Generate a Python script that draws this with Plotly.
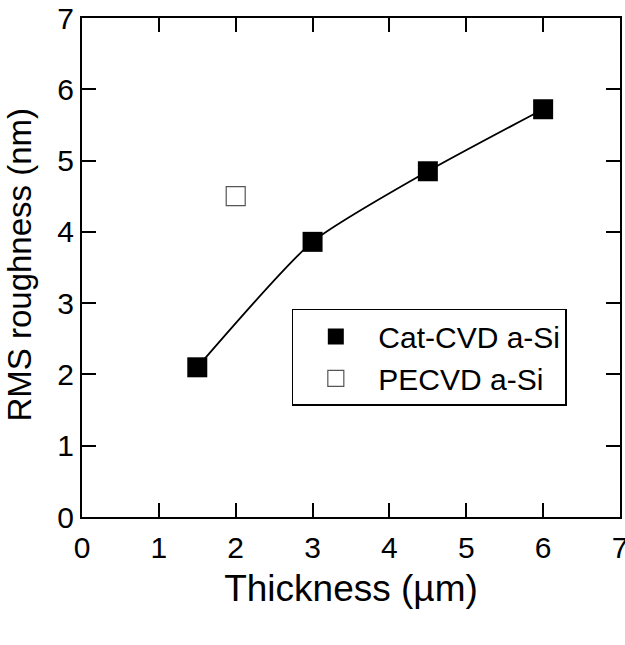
import plotly.graph_objects as go

cat_x = [1.5, 3.0, 4.5, 6.0]
cat_y = [2.10, 3.86, 4.85, 5.72]
pe_x = [2.0]
pe_y = [4.50]
ticks = [0, 1, 2, 3, 4, 5, 6, 7]

FONT = "Arial, Liberation Sans, sans-serif"

fig = go.Figure()
fig.add_trace(go.Scatter(
    x=cat_x, y=cat_y, mode="lines", line=dict(color="black", width=1.8, shape="spline", smoothing=0.6),
    showlegend=False, hoverinfo="skip"))
fig.add_trace(go.Scatter(
    x=cat_x, y=cat_y, mode="markers", name="Cat-CVD a-Si",
    marker=dict(symbol="square", size=20, color="black", line=dict(color="black", width=0))))
fig.add_trace(go.Scatter(
    x=pe_x, y=pe_y, mode="markers", name="PECVD a-Si",
    marker=dict(symbol="square", size=19, color="white", line=dict(color="#555555", width=1.2))))

axis_common = dict(
    showgrid=False, zeroline=False, showline=True, linecolor="black", linewidth=2,
    mirror="ticks", ticks="inside", ticklen=14, tickwidth=1.5, tickcolor="black",
    tickfont=dict(family=FONT, size=30, color="black"), tickmode="array",
    tickvals=ticks, ticktext=[str(t) for t in ticks], automargin=False,
    ticklabeloverflow="allow")

fig.update_layout(
    width=625, height=645,
    margin=dict(l=82, r=5, t=18, b=128),
    paper_bgcolor="white", plot_bgcolor="white",
    font=dict(family=FONT, color="black"),
    xaxis=dict(range=[0, 7], title=dict(text="Thickness (µm)", font=dict(family=FONT, size=37), standoff=12),
               ticklabelstandoff=3, **axis_common),
    yaxis=dict(range=[0, 7], **axis_common),
    legend=dict(x=0.39, y=0.417, xanchor="left", yanchor="top",
                bordercolor="black", borderwidth=1.5, bgcolor="white",
                font=dict(family=FONT, size=30, color="black"),
                itemwidth=75, tracegroupgap=0),
    annotations=[dict(text="RMS roughness (nm)", textangle=-90, xref="paper", yref="paper",
                      x=-0.117, y=0.506, xanchor="center", yanchor="middle", showarrow=False,
                      font=dict(family=FONT, size=33, color="black"))],
)

fig.write_html("out.html", config={"displayModeBar": False},
               post_script="document.body.style.margin='0px';document.body.style.padding='0px';")
